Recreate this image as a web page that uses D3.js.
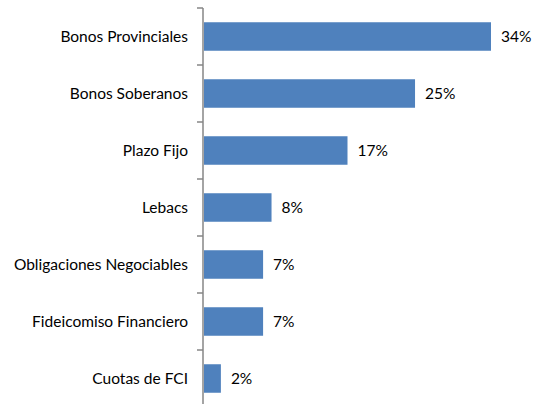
<!DOCTYPE html>
<html>
<head>
<meta charset="utf-8">
<script src="https://cdn.jsdelivr.net/npm/d3@7"></script>
<style>
  html, body { margin: 0; padding: 0; background: #fff; }
  svg { display: block; }
  text { font-family: Lato, "Open Sans", sans-serif; fill: #000; }
</style>
</head>
<body>
<svg id="chart" width="533" height="404"></svg>
<script>
const categories = [
  "Bonos Provinciales",
  "Bonos Soberanos",
  "Plazo Fijo",
  "Lebacs",
  "Obligaciones Negociables",
  "Fideicomiso Financiero",
  "Cuotas de FCI"
];
const values = [34, 25, 17, 8, 7, 7, 2];
const valueLabels = ["34%", "25%", "17%", "8%", "7%", "7%", "2%"];

const svg = d3.select("#chart");
const axisX = 203;
const plotTop = 8, step = 57;

const y = d3.scaleBand()
  .domain(categories)
  .range([plotTop, plotTop + step * categories.length])
  .paddingInner(0.5)
  .paddingOuter(0.25);

const x = d3.scaleLinear().domain([0, 34]).range([axisX + 1, axisX + 1 + 287]);

// bars
svg.selectAll("rect.bar")
  .data(categories)
  .join("rect")
  .attr("class", "bar")
  .attr("x", x(0))
  .attr("y", d => y(d))
  .attr("width", (d, i) => x(values[i]) - x(0))
  .attr("height", y.bandwidth())
  .attr("fill", "#4F81BD");

// value labels
svg.selectAll("text.val")
  .data(categories)
  .join("text")
  .attr("class", "val")
  .attr("x", (d, i) => x(values[i]) + 10)
  .attr("y", d => y(d) + y.bandwidth() / 2)
  .attr("dy", "0.35em")
  .attr("font-size", 15.5)
  .text((d, i) => valueLabels[i]);

// category axis
const boundaries = d3.range(categories.length + 1).map(i => plotTop + i * step);
svg.append("line")
  .attr("x1", axisX).attr("x2", axisX)
  .attr("y1", plotTop).attr("y2", plotTop + step * categories.length)
  .attr("stroke", "#868686").attr("stroke-width", 1.5);
svg.selectAll("line.tick")
  .data(boundaries)
  .join("line")
  .attr("class", "tick")
  .attr("x1", axisX - 6).attr("x2", axisX)
  .attr("y1", d => d).attr("y2", d => d)
  .attr("stroke", "#868686").attr("stroke-width", 1.5);

svg.selectAll("text.cat")
  .data(categories)
  .join("text")
  .attr("class", "cat")
  .attr("x", axisX - 15)
  .attr("y", d => y(d) + y.bandwidth() / 2)
  .attr("dy", "0.35em")
  .attr("text-anchor", "end")
  .attr("font-size", 15.5)
  .text(d => d);
</script>
</body>
</html>
